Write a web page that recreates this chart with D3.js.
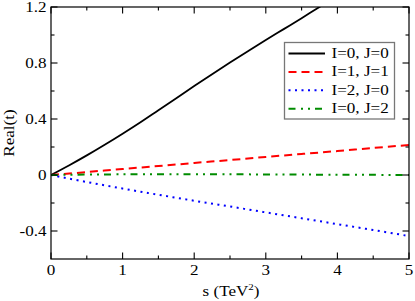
<!DOCTYPE html>
<html><head><meta charset="utf-8">
<script src="https://cdn.jsdelivr.net/npm/d3@7"></script>
<style>body{margin:0;background:#fff}svg{display:block}</style>
</head><body><svg id="c" width="415" height="301"></svg>
<script>
const sI0J0 = [0,0.25,0.5,0.75,1,1.25,1.5,1.75,2,2.25,2.5,2.75,3,3.25,3.5,3.75,4];
const vI0J0 = [0,0.068,0.14,0.216,0.295,0.377,0.463,0.549,0.635,0.72,0.803,0.884,0.964,1.042,1.12,1.2,1.278];
const sLin = [0,0.5,1,1.5,2,2.5,3,3.5,4,4.5,5];
const vI1J1 = [0,0.021,0.043,0.064,0.086,0.107,0.129,0.15,0.171,0.193,0.214];
const vI2J0 = [0,-0.05,-0.097,-0.141,-0.184,-0.225,-0.267,-0.309,-0.351,-0.393,-0.436];
const vI0J2 = [0,0.003,0.005,0.006,0.006,0.005,0.004,0.003,0.002,0.001,0];
const seriesNames = ["I=0, J=0","I=1, J=1","I=2, J=0","I=0, J=2"];
const xTicks = [0,1,2,3,4,5];
const yTicks = [-0.4,0,0.4,0.8,1.2];
const yTickLabels = ["-0.4","0","0.4","0.8","1.2"];

const svg = d3.select("#c");
const L=51, R=409, T=7, B=259;
const x = d3.scaleLinear().domain([0,5]).range([L,R]);
const y = d3.scaleLinear().domain([-0.6,1.2]).range([B,T]);
const font = "'Liberation Serif','Times New Roman',serif";
const SX = 1.22, FS = 14;

svg.append("defs").append("clipPath").attr("id","clip")
  .append("rect").attr("x",L).attr("y",T).attr("width",R-L).attr("height",B-T);

const series = [
  {s:sI0J0, v:vI0J0, color:"#000", dash:null, w:1.8},
  {s:sLin, v:vI1J1, color:"#ff0000", dash:"8,5", w:2},
  {s:sLin, v:vI2J0, color:"#0000ff", dash:"2,4.5", w:2},
  {s:sLin, v:vI0J2, color:"#008c00", dash:"7,5.5,2,5,2,5", w:2}
];
const line = d3.line().x(d=>x(d[0])).y(d=>y(d[1])).curve(d3.curveCatmullRom);
const g = svg.append("g").attr("clip-path","url(#clip)");
series.forEach(sr=>{
  g.append("path").datum(sr.s.map((s,i)=>[s,sr.v[i]]))
    .attr("d",line).attr("fill","none").attr("stroke",sr.color)
    .attr("stroke-width",sr.w).attr("stroke-dasharray",sr.dash);
});

// Frame
svg.append("rect").attr("x",L).attr("y",T).attr("width",R-L).attr("height",B-T)
  .attr("fill","none").attr("stroke","#000").attr("stroke-width",1.2);

// Ticks (inward, all four sides)
const tk = svg.append("g").attr("stroke","#000").attr("stroke-width",1.1);
const xMinor = d3.range(0.5,5,1);
const yMinor = [-0.2,0.2,0.6,1.0];
function xt(v,len){ tk.append("line").attr("x1",x(v)).attr("x2",x(v)).attr("y1",B).attr("y2",B-len);
  tk.append("line").attr("x1",x(v)).attr("x2",x(v)).attr("y1",T).attr("y2",T+len);}
function yt(v,len){ tk.append("line").attr("y1",y(v)).attr("y2",y(v)).attr("x1",L).attr("x2",L+len);
  tk.append("line").attr("y1",y(v)).attr("y2",y(v)).attr("x1",R).attr("x2",R-len);}
xTicks.forEach(v=>xt(v,6.5)); xMinor.forEach(v=>xt(v,3.5));
yTicks.forEach(v=>yt(v,6.5)); yMinor.forEach(v=>yt(v,3.5));

function txt(px,py,str,anchor){
  return svg.append("text").attr("transform",`translate(${px},${py}) scale(${SX},1)`)
    .attr("text-anchor",anchor).attr("font-family",font).attr("font-size",FS).attr("fill","#000").text(str);
}
xTicks.forEach(v=>txt(x(v),275,String(v),"middle"));
yTicks.forEach((v,i)=>txt(46.5,y(v)+4.7,yTickLabels[i],"end"));

// Axis titles
const xt2 = svg.append("text").attr("transform",`translate(231,296) scale(${SX},1)`)
  .attr("text-anchor","middle").attr("font-family",font).attr("font-size",FS);
xt2.append("tspan").text("s (TeV");
xt2.append("tspan").attr("font-size",9).attr("dy",-6).text("2");
xt2.append("tspan").attr("dy",6).text(")");
svg.append("text").attr("transform",`translate(13.5,${(T+B)/2}) rotate(-90) scale(${SX},1)`)
  .attr("text-anchor","middle").attr("font-family",font).attr("font-size",FS).text("Real(t)");

// Legend
const lg = svg.append("g");
lg.append("rect").attr("x",284.5).attr("y",42.5).attr("width",110).attr("height",76.5)
  .attr("fill","#fff").attr("stroke","#777").attr("stroke-width",1.3);
seriesNames.forEach((n,i)=>{
  const yy = 53.5 + i*18.4;
  lg.append("line").attr("x1",288.5).attr("x2",325).attr("y1",yy).attr("y2",yy)
    .attr("stroke",series[i].color).attr("stroke-width",series[i].w).attr("stroke-dasharray",series[i].dash);
  txt(331.5,yy+4.2,n,"start");
});
</script></body></html>
